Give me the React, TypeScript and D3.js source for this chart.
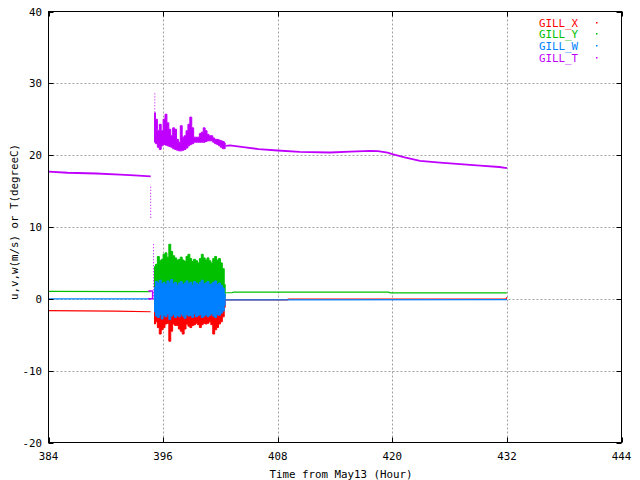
import { useRef, useEffect } from 'react';
import * as d3 from 'd3';

const WIDTH = 640;
const HEIGHT = 480;
const FONT = '"DejaVu Sans Mono", monospace';

const xTicks = [384, 396, 408, 420, 432, 444];
const yTicks = [-20, -10, 0, 10, 20, 30, 40];

const seriesNames = ['GILL_X', 'GILL_Y', 'GILL_W', 'GILL_T'];
const seriesColors = ['#ff0000', '#00c000', '#0080ff', '#c000ff'];

// quiet periods before the sensor restart
const xBeforeHours = [384, 391, 394.7];
const xBeforeValues = [-1.65, -1.7, -1.8];
const yBeforeHours = [384, 394.7];
const yBeforeValues = [1.05, 1.0];
const wBeforeHours = [384, 394.7];
const wBeforeValues = [0.0, 0.0];
const tBeforeHours = [384, 386, 389, 391.5, 393, 394.7];
const tBeforeValues = [17.7, 17.55, 17.45, 17.3, 17.2, 17.05];

// quiet periods after the turbulent part
const xAfterHours = [402.55, 409.0, 409.1, 431.9, 432.0];
const xAfterValues = [-0.14, -0.14, -0.02, -0.02, 0.2];
const yAfterHours = [402.55, 403.2, 403.4, 419.6, 419.8, 432];
const yAfterValues = [0.85, 0.85, 0.93, 0.93, 0.83, 0.82];
const wAfterHours = [402.55, 432];
const wAfterValues = [-0.14, -0.12];
const tAfterHours = [
  402.55, 403.0, 404.6, 406, 408, 410.3, 413.5, 415.6, 417.7, 418.5, 419.5, 420.0,
  421.3, 422.9, 425, 427.1, 429.2, 431.2, 432,
];
const tAfterValues = [
  21.3, 21.35, 21.07, 20.85, 20.65, 20.47, 20.37, 20.5, 20.6, 20.55, 20.35, 20.15,
  19.7, 19.2, 18.95, 18.75, 18.55, 18.35, 18.2,
];

// turbulent part: min / max of each series per 0.2 h bin
const noiseHours = [
  395.1, 395.3, 395.5, 395.7, 395.9, 396.1, 396.3, 396.5, 396.7, 396.9,
  397.1, 397.3, 397.5, 397.7, 397.9, 398.1, 398.3, 398.5, 398.7, 398.9,
  399.1, 399.3, 399.5, 399.7, 399.9, 400.1, 400.3, 400.5, 400.7, 400.9,
  401.1, 401.3, 401.5, 401.7, 401.9, 402.1, 402.3, 402.5,
];
const xNoiseLo = [
  -3.5, -3.2, -4.0, -4.9, -4.3, -4.0, -3.5, -3.4, -5.9, -4.5,
  -3.5, -3.7, -3.7, -4.2, -4.5, -4.9, -4.2, -3.5, -3.8, -4.0,
  -3.7, -3.6, -3.4, -3.6, -4.0, -3.6, -3.4, -3.5, -3.4, -3.2,
  -3.6, -4.9, -4.3, -4.0, -3.5, -3.2, -2.5, -1.2,
];
const xNoiseHi = [
  0.4, 0.6, 0.5, 0.7, 0.5, 0.6, 0.4, 0.5, 0.6, 0.5,
  0.4, 0.6, 0.5, 0.5, 0.6, 0.4, 0.5, 0.6, 0.5, 0.4,
  0.5, 0.6, 0.5, 0.4, 0.5, 0.6, 0.5, 0.5, 0.4, 0.5,
  0.6, 0.5, 0.4, 0.5, 0.5, 0.4, 0.3, 0.0,
];
const yNoiseLo = [
  -0.5, -0.6, -0.5, -0.7, -0.6, -0.5, -0.6, -0.5, -0.7, -0.6,
  -0.5, -0.6, -0.5, -0.6, -0.5, -0.6, -0.7, -0.5, -0.6, -0.5,
  -0.6, -0.5, -0.6, -0.5, -0.6, -0.7, -0.5, -0.6, -0.5, -0.6,
  -0.5, -0.6, -0.5, -0.6, -0.5, -0.4, -0.3, 0.2,
];
const yNoiseHi = [
  4.5, 4.8, 5.9, 5.3, 5.5, 6.2, 6.4, 5.8, 7.6, 6.6,
  6.0, 5.7, 5.4, 5.5, 5.8, 5.4, 5.2, 5.9, 6.2, 5.6,
  5.2, 5.5, 5.3, 5.0, 5.6, 6.2, 5.7, 5.4, 5.7, 5.3,
  5.0, 5.6, 5.9, 5.4, 5.6, 5.0, 4.2, 2.0,
];
const wNoiseLo = [
  -1.8, -2.4, -2.6, -2.2, -2.8, -2.3, -2.5, -2.1, -2.9, -2.4,
  -2.2, -2.6, -2.3, -2.5, -2.1, -2.4, -2.7, -2.2, -2.4, -2.3,
  -2.6, -2.1, -2.5, -2.3, -2.2, -2.6, -2.4, -2.2, -2.5, -2.3,
  -2.1, -2.4, -2.6, -2.2, -2.3, -2.0, -1.7, -0.9,
];
const wNoiseHi = [
  1.6, 2.4, 2.2, 2.6, 2.1, 2.3, 2.0, 2.5, 2.2, 2.7,
  2.1, 2.3, 1.9, 2.2, 2.4, 2.0, 2.2, 2.5, 2.1, 2.3,
  1.9, 2.4, 2.2, 2.0, 2.3, 2.6, 2.1, 2.2, 2.4, 2.0,
  2.1, 2.3, 2.5, 2.0, 2.2, 1.9, 1.5, 0.7,
];
const tNoiseLo = [
  21.8, 21.6, 21.1, 20.8, 21.3, 21.5, 21.4, 21.3, 21.2, 21.1,
  20.9, 20.8, 20.7, 20.6, 20.6, 20.7, 20.8, 21.0, 21.3, 21.5,
  21.6, 21.8, 21.8, 21.8, 21.8, 21.8, 21.8, 21.9, 22.0, 22.0,
  22.0, 21.8, 21.6, 21.5, 21.3, 21.1, 20.9, 20.9,
];
const tNoiseHi = [
  25.9, 25.0, 23.4, 24.3, 23.4, 25.0, 25.7, 24.5, 23.6, 22.7,
  23.8, 23.6, 22.2, 21.8, 24.1, 22.5, 22.7, 23.4, 24.3, 25.3,
  23.8, 22.5, 22.5, 22.5, 23.0, 23.2, 23.8, 23.4, 22.9, 22.7,
  22.7, 22.4, 22.2, 22.2, 22.1, 22.0, 21.9, 21.7,
];

// temperature start-up glitches
const tGlitchHours = [394.45, 394.9, 394.9, 394.45];
const tGlitchValues = [1.1, 1.1, 0.0, 0.0];
const tSpikeHours = [394.7, 395.0, 395.13];
const tSpikeLo = [11.0, 0.0, 25.5];
const tSpikeHi = [15.6, 7.6, 28.6];

export default function App() {
  const svgRef = useRef<SVGSVGElement>(null);

  useEffect(() => {
    const svg = d3.select(svgRef.current);
    svg.selectAll('*').remove();

    const x = d3.scaleLinear().domain([384, 444]).range([48.5, 621.5]);
    const y = d3.scaleLinear().domain([-20, 40]).range([442.5, 11.5]);

    svg.append('rect').attr('width', WIDTH).attr('height', HEIGHT).attr('fill', '#fff');

    // Grid
    const grid = svg.append('g');
    xTicks.slice(1, -1).forEach((v) => {
      grid
        .append('line')
        .attr('x1', Math.round(x(v)) + 0.5)
        .attr('x2', Math.round(x(v)) + 0.5)
        .attr('y1', y(40))
        .attr('y2', y(-20))
        .attr('stroke', '#a0a0a0')
        .attr('stroke-dasharray', '2,2');
    });
    yTicks.slice(1, -1).forEach((v) => {
      grid
        .append('line')
        .attr('x1', x(384))
        .attr('x2', x(444))
        .attr('y1', Math.round(y(v)) + 0.5)
        .attr('y2', Math.round(y(v)) + 0.5)
        .attr('stroke', '#a0a0a0')
        .attr('stroke-dasharray', '2,2');
    });

    const line = d3
      .line<[number, number]>()
      .x((d) => x(d[0]))
      .y((d) => y(d[1]));
    const zip = (hs: number[], vs: number[]) => hs.map((h, i) => [h, vs[i]] as [number, number]);

    const drawLine = (hs: number[], vs: number[], color: string, w: number) => {
      svg
        .append('path')
        .attr('d', line(zip(hs, vs)))
        .attr('fill', 'none')
        .attr('stroke', color)
        .attr('stroke-width', w);
    };

    // min/max band of the turbulent part, stepped per bin
    const band = d3
      .area<number>()
      .curve(d3.curveStep)
      .x((h) => x(h));
    const drawNoise = (lo: number[], hi: number[], color: string) => {
      svg
        .append('path')
        .attr(
          'd',
          band
            .y0((_, i) => y(lo[i]))
            .y1((_, i) => y(hi[i]))(noiseHours),
        )
        .attr('fill', color)
        .attr('stroke', color)
        .attr('stroke-width', 1);
    };

    // GILL_X
    drawLine(xBeforeHours, xBeforeValues, seriesColors[0], 1.2);
    drawNoise(xNoiseLo, xNoiseHi, seriesColors[0]);
    drawLine(xAfterHours, xAfterValues, seriesColors[0], 1.2);

    // GILL_Y
    drawLine(yBeforeHours, yBeforeValues, seriesColors[1], 1.2);
    drawNoise(yNoiseLo, yNoiseHi, seriesColors[1]);
    drawLine(yAfterHours, yAfterValues, seriesColors[1], 1.2);

    // GILL_W
    drawLine(wBeforeHours, wBeforeValues, seriesColors[2], 1.2);
    drawNoise(wNoiseLo, wNoiseHi, seriesColors[2]);
    drawLine(wAfterHours, wAfterValues, seriesColors[2], 1.2);

    // GILL_T
    drawLine(tBeforeHours, tBeforeValues, seriesColors[3], 1.8);
    drawLine(tGlitchHours, tGlitchValues, seriesColors[3], 1.5);
    tSpikeHours.forEach((h, i) => {
      svg
        .append('line')
        .attr('x1', x(h))
        .attr('x2', x(h))
        .attr('y1', y(tSpikeHi[i]))
        .attr('y2', y(tSpikeLo[i]))
        .attr('stroke', seriesColors[3])
        .attr('stroke-width', 1)
        .attr('stroke-dasharray', '1,2');
    });
    drawNoise(tNoiseLo, tNoiseHi, seriesColors[3]);
    drawLine(tAfterHours, tAfterValues, seriesColors[3], 1.8);

    // Border + ticks
    svg
      .append('rect')
      .attr('x', x(384))
      .attr('y', y(40))
      .attr('width', x(444) - x(384))
      .attr('height', y(-20) - y(40))
      .attr('fill', 'none')
      .attr('stroke', '#000');

    const ticks = svg.append('g').attr('stroke', '#000');
    xTicks.forEach((v) => {
      const px = Math.round(x(v)) + 0.5;
      ticks.append('line').attr('x1', px).attr('x2', px).attr('y1', y(-20)).attr('y2', y(-20) - 5);
      ticks.append('line').attr('x1', px).attr('x2', px).attr('y1', y(40)).attr('y2', y(40) + 5);
    });
    yTicks.forEach((v) => {
      const py = Math.round(y(v)) + 0.5;
      ticks.append('line').attr('x1', x(384)).attr('x2', x(384) + 5).attr('y1', py).attr('y2', py);
      ticks.append('line').attr('x1', x(444)).attr('x2', x(444) - 5).attr('y1', py).attr('y2', py);
    });

    const labels = svg
      .append('g')
      .attr('font-family', FONT)
      .attr('font-size', 10.8)
      .attr('fill', '#000');
    xTicks.forEach((v) => {
      labels
        .append('text')
        .attr('x', x(v))
        .attr('y', 460)
        .attr('text-anchor', 'middle')
        .text(String(v));
    });
    yTicks.forEach((v) => {
      labels
        .append('text')
        .attr('x', 42)
        .attr('y', y(v) + 4)
        .attr('text-anchor', 'end')
        .text(String(v));
    });

    labels
      .append('text')
      .attr('x', 341)
      .attr('y', 477.5)
      .attr('text-anchor', 'middle')
      .text('Time from May13 (Hour)');
    labels
      .append('text')
      .attr('transform', 'translate(18,222) rotate(-90)')
      .attr('text-anchor', 'middle')
      .text('u,v,w(m/s) or T(degreeC)');

    // Legend
    seriesNames.forEach((name, i) => {
      const ly = 22.5 + i * 11.7;
      labels
        .append('text')
        .attr('x', 539)
        .attr('y', ly + 4)
        .attr('fill', seriesColors[i])
        .text(name);
      svg
        .append('rect')
        .attr('x', 596)
        .attr('y', Math.round(ly) - 1)
        .attr('width', 1.5)
        .attr('height', 1.5)
        .attr('fill', seriesColors[i]);
    });
  }, []);

  return (
    <svg
      ref={svgRef}
      width={WIDTH}
      height={HEIGHT}
      style={{ position: 'absolute', left: 0, top: 0 }}
    />
  );
}
